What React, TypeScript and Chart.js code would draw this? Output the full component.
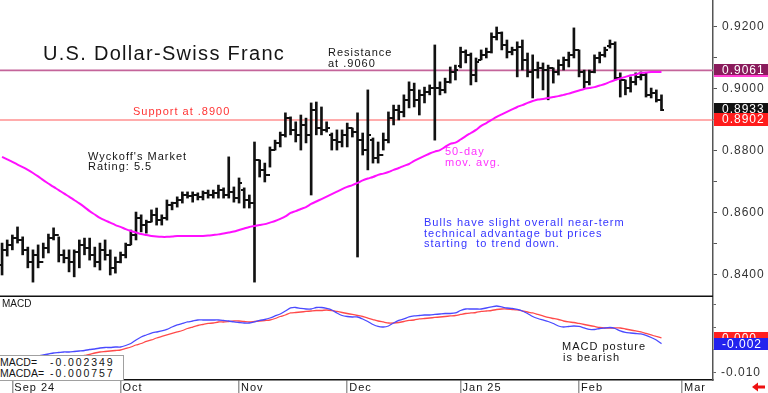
import React, { useEffect, useRef } from 'react';
import { Chart, registerables } from 'chart.js';

Chart.register(...registerables);

// ---- data ----
const X_MIN = -0.4;
const X_MAX = 138;
const MONTH_TICKS = [2, 23, 46, 67, 89, 112, 132];
const MONTH_LABELS = ['Sep 24', 'Oct', 'Nov', 'Dec', 'Jan 25', 'Feb', 'Mar'];

const HIGHS = [
  0.8503, 0.8513, 0.8529, 0.8555, 0.8523, 0.8490, 0.8481, 0.8497, 0.8503, 0.8532,
  0.8552, 0.8523, 0.8481, 0.8481, 0.8481, 0.8513, 0.8519, 0.8519, 0.8490, 0.8503,
  0.8513, 0.8481, 0.8458, 0.8474, 0.8503, 0.8545, 0.8603, 0.8594, 0.8577, 0.8610,
  0.8616, 0.8594, 0.8642, 0.8635, 0.8652, 0.8668, 0.8668, 0.8668, 0.8665, 0.8671,
  0.8674, 0.8674, 0.8690, 0.8681, 0.8781, 0.8684, 0.8713, 0.8681, 0.8658, 0.8829,
  0.8771, 0.8761, 0.8813, 0.8835, 0.8861, 0.8923, 0.8910, 0.8894, 0.8916, 0.8906,
  0.8955, 0.8958, 0.8942, 0.8894, 0.8858, 0.8868, 0.8868, 0.8890, 0.8874, 0.8923,
  0.8858, 0.8997, 0.8842, 0.8829, 0.8858, 0.8926, 0.8948, 0.8948, 0.8981, 0.9023,
  0.9019, 0.8997, 0.9006, 0.9013, 0.9142, 0.9023, 0.9035, 0.9071, 0.9077, 0.9135,
  0.9126, 0.9116, 0.9100, 0.9126, 0.9132, 0.9181, 0.9200, 0.9184, 0.9158, 0.9135,
  0.9152, 0.9158, 0.9116, 0.9110, 0.9087, 0.9084, 0.9077, 0.9068, 0.9094, 0.9103,
  0.9119, 0.9197, 0.9126, 0.9061, 0.9061, 0.9110, 0.9119, 0.9135, 0.9158, 0.9152,
  0.9052, 0.9029, 0.9039, 0.9052, 0.9055, 0.9052, 0.9003, 0.8997, 0.8981,
];
const LOWS = [
  0.8400, 0.8461, 0.8481, 0.8503, 0.8465, 0.8423, 0.8377, 0.8423, 0.8455, 0.8471,
  0.8513, 0.8442, 0.8439, 0.8410, 0.8394, 0.8423, 0.8465, 0.8448, 0.8426, 0.8416,
  0.8448, 0.8400, 0.8406, 0.8439, 0.8455, 0.8497, 0.8513, 0.8539, 0.8535, 0.8571,
  0.8561, 0.8561, 0.8577, 0.8610, 0.8619, 0.8632, 0.8648, 0.8635, 0.8642, 0.8642,
  0.8648, 0.8648, 0.8648, 0.8648, 0.8648, 0.8635, 0.8632, 0.8616, 0.8616, 0.8377,
  0.8716, 0.8700, 0.8748, 0.8803, 0.8813, 0.8845, 0.8852, 0.8829, 0.8803, 0.8826,
  0.8658, 0.8852, 0.8852, 0.8861, 0.8803, 0.8803, 0.8813, 0.8813, 0.8845, 0.8458,
  0.8787, 0.8739, 0.8761, 0.8761, 0.8803, 0.8826, 0.8884, 0.8900, 0.8910, 0.8939,
  0.8942, 0.8916, 0.8955, 0.8981, 0.8835, 0.8981, 0.8987, 0.9019, 0.9029, 0.9068,
  0.9084, 0.9013, 0.9023, 0.9094, 0.9100, 0.9116, 0.9158, 0.9126, 0.9100, 0.9110,
  0.9039, 0.9061, 0.9039, 0.8971, 0.9035, 0.8997, 0.8965, 0.9019, 0.9045, 0.9061,
  0.9071, 0.9100, 0.9039, 0.9003, 0.9013, 0.9052, 0.9084, 0.9103, 0.9132, 0.9029,
  0.8974, 0.8981, 0.8990, 0.9013, 0.9029, 0.8974, 0.8971, 0.8958, 0.8930,
];
const OPENS = [
  0.8432, 0.8481, 0.8497, 0.8519, 0.8513, 0.8481, 0.8442, 0.8465, 0.8442, 0.8487,
  0.8519, 0.8529, 0.8465, 0.8455, 0.8442, 0.8474, 0.8497, 0.8487, 0.8465, 0.8442,
  0.8481, 0.8465, 0.8423, 0.8442, 0.8465, 0.8497, 0.8529, 0.8584, 0.8561, 0.8571,
  0.8594, 0.8577, 0.8584, 0.8626, 0.8632, 0.8642, 0.8658, 0.8655, 0.8658, 0.8652,
  0.8665, 0.8658, 0.8665, 0.8674, 0.8658, 0.8668, 0.8648, 0.8674, 0.8642, 0.8632,
  0.8771, 0.8739, 0.8723, 0.8803, 0.8826, 0.8852, 0.8906, 0.8868, 0.8852, 0.8884,
  0.8852, 0.8932, 0.8874, 0.8868, 0.8852, 0.8835, 0.8829, 0.8852, 0.8874, 0.8861,
  0.8835, 0.8803, 0.8835, 0.8777, 0.8787, 0.8835, 0.8906, 0.8932, 0.8926, 0.8965,
  0.8997, 0.8965, 0.8981, 0.8990, 0.9003, 0.9003, 0.8997, 0.9023, 0.9055, 0.9074,
  0.9119, 0.9110, 0.9045, 0.9094, 0.9110, 0.9119, 0.9168, 0.9181, 0.9142, 0.9119,
  0.9126, 0.9135, 0.9094, 0.9055, 0.9061, 0.9068, 0.9061, 0.9068, 0.9055, 0.9077,
  0.9094, 0.9110, 0.9126, 0.9055, 0.9023, 0.9055, 0.9100, 0.9110, 0.9139, 0.9145,
  0.9035, 0.9029, 0.9003, 0.9023, 0.9039, 0.9045, 0.8981, 0.8987, 0.8965,
];
const CLOSES = [
  0.8481, 0.8497, 0.8519, 0.8513, 0.8481, 0.8442, 0.8465, 0.8442, 0.8487, 0.8519,
  0.8529, 0.8465, 0.8455, 0.8442, 0.8474, 0.8497, 0.8487, 0.8465, 0.8442, 0.8481,
  0.8465, 0.8423, 0.8442, 0.8465, 0.8497, 0.8529, 0.8584, 0.8561, 0.8571, 0.8594,
  0.8577, 0.8584, 0.8626, 0.8632, 0.8642, 0.8658, 0.8655, 0.8658, 0.8652, 0.8665,
  0.8658, 0.8665, 0.8674, 0.8658, 0.8668, 0.8648, 0.8697, 0.8642, 0.8632, 0.8771,
  0.8739, 0.8723, 0.8803, 0.8826, 0.8852, 0.8906, 0.8868, 0.8852, 0.8884, 0.8852,
  0.8932, 0.8874, 0.8868, 0.8874, 0.8835, 0.8829, 0.8852, 0.8874, 0.8861, 0.8835,
  0.8803, 0.8852, 0.8777, 0.8787, 0.8835, 0.8906, 0.8932, 0.8926, 0.8965, 0.8997,
  0.8965, 0.8981, 0.8990, 0.9003, 0.9003, 0.8997, 0.9023, 0.9055, 0.9061, 0.9119,
  0.9110, 0.9045, 0.9087, 0.9110, 0.9119, 0.9168, 0.9181, 0.9142, 0.9119, 0.9126,
  0.9135, 0.9094, 0.9055, 0.9061, 0.9068, 0.9061, 0.9068, 0.9055, 0.9077, 0.9094,
  0.9110, 0.9126, 0.9055, 0.9023, 0.9055, 0.9100, 0.9110, 0.9126, 0.9145, 0.9035,
  0.9029, 0.9003, 0.9023, 0.9039, 0.9045, 0.8981, 0.8987, 0.8965, 0.8933,
];
const MA50 = [
  0.8781, 0.8773, 0.8765, 0.8756, 0.8748, 0.8739, 0.8729, 0.8718, 0.8706, 0.8695,
  0.8684, 0.8674, 0.8663, 0.8653, 0.8642, 0.8631, 0.8619, 0.8606, 0.8595, 0.8584,
  0.8576, 0.8569, 0.8561, 0.8555, 0.8548, 0.8542, 0.8537, 0.8532, 0.8529, 0.8526,
  0.8524, 0.8523, 0.8523, 0.8524, 0.8526, 0.8526, 0.8526, 0.8526, 0.8526, 0.8526,
  0.8527, 0.8529, 0.8531, 0.8534, 0.8537, 0.8540, 0.8545, 0.8550, 0.8555, 0.8558,
  0.8561, 0.8564, 0.8569, 0.8574, 0.8581, 0.8589, 0.8600, 0.8606, 0.8613, 0.8619,
  0.8629, 0.8637, 0.8645, 0.8653, 0.8661, 0.8669, 0.8677, 0.8684, 0.8690, 0.8697,
  0.8705, 0.8711, 0.8716, 0.8723, 0.8727, 0.8732, 0.8739, 0.8745, 0.8752, 0.8758,
  0.8768, 0.8776, 0.8784, 0.8792, 0.8798, 0.8803, 0.8813, 0.8823, 0.8827, 0.8837,
  0.8848, 0.8858, 0.8868, 0.8881, 0.8890, 0.8900, 0.8910, 0.8918, 0.8926, 0.8934,
  0.8942, 0.8948, 0.8955, 0.8961, 0.8966, 0.8968, 0.8971, 0.8974, 0.8977, 0.8981,
  0.8985, 0.8990, 0.8995, 0.9000, 0.9003, 0.9006, 0.9011, 0.9016, 0.9023, 0.9029,
  0.9034, 0.9039, 0.9044, 0.9047, 0.9052, 0.9053, 0.9055, 0.9055, 0.9055,
];
const MACD = [
  -0.00800, -0.00773, -0.00747, -0.00720, -0.00693, -0.00640, -0.00600, -0.00560, -0.00533, -0.00507,
  -0.00480, -0.00467, -0.00453, -0.00453, -0.00440, -0.00427, -0.00413, -0.00387, -0.00373, -0.00347,
  -0.00333, -0.00333, -0.00320, -0.00320, -0.00280, -0.00227, -0.00133, -0.00053, 0.00000, 0.00053,
  0.00080, 0.00107, 0.00147, 0.00213, 0.00267, 0.00307, 0.00347, 0.00373, 0.00400, 0.00400,
  0.00400, 0.00400, 0.00400, 0.00387, 0.00373, 0.00347, 0.00333, 0.00320, 0.00320, 0.00347,
  0.00387, 0.00413, 0.00453, 0.00507, 0.00560, 0.00640, 0.00720, 0.00733, 0.00707, 0.00693,
  0.00693, 0.00733, 0.00733, 0.00707, 0.00667, 0.00587, 0.00520, 0.00493, 0.00480, 0.00480,
  0.00427, 0.00360, 0.00280, 0.00227, 0.00213, 0.00240, 0.00320, 0.00387, 0.00427, 0.00480,
  0.00507, 0.00520, 0.00533, 0.00533, 0.00547, 0.00560, 0.00573, 0.00573, 0.00587, 0.00653,
  0.00693, 0.00693, 0.00693, 0.00693, 0.00720, 0.00747, 0.00773, 0.00747, 0.00720, 0.00707,
  0.00680, 0.00640, 0.00573, 0.00493, 0.00440, 0.00400, 0.00360, 0.00307, 0.00240, 0.00213,
  0.00227, 0.00240, 0.00227, 0.00187, 0.00147, 0.00147, 0.00173, 0.00187, 0.00200, 0.00173,
  0.00107, 0.00067, 0.00053, 0.00040, 0.00027, -0.00013, -0.00067, -0.00133, -0.002349,
];
const MACDA = [
  -0.00827, -0.00813, -0.00800, -0.00773, -0.00760, -0.00747, -0.00720, -0.00707, -0.00680, -0.00667,
  -0.00640, -0.00627, -0.00613, -0.00600, -0.00587, -0.00573, -0.00547, -0.00520, -0.00480, -0.00453,
  -0.00440, -0.00427, -0.00413, -0.00400, -0.00360, -0.00320, -0.00267, -0.00227, -0.00173, -0.00133,
  -0.00080, -0.00040, 0.00000, 0.00040, 0.00080, 0.00120, 0.00173, 0.00213, 0.00253, 0.00280,
  0.00307, 0.00320, 0.00347, 0.00347, 0.00360, 0.00373, 0.00373, 0.00360, 0.00347, 0.00360,
  0.00373, 0.00387, 0.00400, 0.00440, 0.00493, 0.00533, 0.00587, 0.00600, 0.00613, 0.00627,
  0.00640, 0.00653, 0.00653, 0.00667, 0.00653, 0.00627, 0.00600, 0.00573, 0.00547, 0.00520,
  0.00493, 0.00453, 0.00413, 0.00373, 0.00347, 0.00320, 0.00320, 0.00333, 0.00360, 0.00387,
  0.00400, 0.00427, 0.00440, 0.00453, 0.00467, 0.00480, 0.00493, 0.00507, 0.00520, 0.00547,
  0.00573, 0.00587, 0.00600, 0.00627, 0.00640, 0.00653, 0.00680, 0.00693, 0.00693, 0.00680,
  0.00667, 0.00640, 0.00613, 0.00587, 0.00547, 0.00507, 0.00467, 0.00440, 0.00413, 0.00373,
  0.00347, 0.00333, 0.00307, 0.00280, 0.00253, 0.00227, 0.00200, 0.00187, 0.00187, 0.00187,
  0.00187, 0.00160, 0.00133, 0.00107, 0.00080, 0.00040, 0.00000, -0.00040, -0.000757,
];

const RESISTANCE = 0.906;
const SUPPORT = 0.89;
const PRICE_TICKS = [0.84, 0.85, 0.86, 0.87, 0.88, 0.89, 0.90, 0.91, 0.92];
const MACD_TICKS = [-0.01, -0.008, -0.006, -0.004, -0.002, 0, 0.002, 0.004, 0.006, 0.008, 0.01];
const PRICE_TAG_VALUES = [0.9061, 0.8933, 0.8902];
const PRICE_TAG_TEXTS = ['0.9061', '0.8933', '0.8902'];
const MACD_TAG_VALUES = [-0.000757, -0.002349];
const MACD_TAG_TEXTS = ['0.000', '-0.002'];

const Y_MIN = 0.8329;
const Y_MAX = 0.9287;
const MACD_MIN = -0.012;
const MACD_MAX = 0.01013;

// ---- styles ----
const FONT = '"Liberation Sans", Arial, sans-serif';
const PRICE_TAG_FILLS = ['#8a1b5c', '#111111', '#ff1c1c'];
const MACD_TAG_FILLS = ['#ff2020', '#2323ee'];

function makeTick(left: boolean) {
  const c = document.createElement('canvas');
  c.width = 6;
  c.height = 2;
  const g = c.getContext('2d')!;
  g.fillStyle = '#111';
  g.fillRect(left ? 0 : 3, 0, 3, 2);
  return c;
}

const spacingPlugin = {
  id: 'spacing',
  beforeDraw(chart: any) {
    chart.ctx.letterSpacing = '1px';
  },
};

function drawTags(chart: any, values: number[], texts: string[], fills: string[], h: number, stripe: boolean) {
  const ctx = chart.ctx;
  const ys = chart.scales.y;
  const left = chart.chartArea.right + 1;
  ctx.save();
  ctx.font = '12px ' + FONT;
  ctx.textBaseline = 'middle';
  ctx.letterSpacing = '1px';
  values.forEach((v, k) => {
    const y = ys.getPixelForValue(v);
    const top = Math.round(y - h / 2);
    ctx.fillStyle = fills[k];
    ctx.fillRect(left, top, chart.width - left, h);
    if (stripe && k === 0) {
      ctx.fillStyle = '#ff3fd0';
      ctx.fillRect(left, top + h - 2, chart.width - left, 2);
    }
    ctx.fillStyle = '#fff';
    ctx.fillText(texts[k], left + 8, top + h / 2 + 0.5);
  });
  ctx.restore();
}

const mainDeco = {
  id: 'mainDeco',
  afterDraw(chart: any) {
    const ctx = chart.ctx;
    ctx.save();
    ctx.strokeStyle = '#111';
    ctx.lineWidth = 1.5;
    ctx.beginPath();
    ctx.moveTo(0, chart.height - 0.75);
    ctx.lineTo(chart.chartArea.right, chart.height - 0.75);
    ctx.stroke();
    ctx.restore();
    drawTags(chart, PRICE_TAG_VALUES, PRICE_TAG_TEXTS, PRICE_TAG_FILLS, 13, true);
  },
};

const macdDeco = {
  id: 'macdDeco',
  afterDraw(chart: any) {
    drawTags(chart, MACD_TAG_VALUES, MACD_TAG_TEXTS, MACD_TAG_FILLS, 12, false);
    const ctx = chart.ctx;
    ctx.save();
    ctx.fillStyle = '#ee1111';
    const bx = 752;
    const by = chart.height - 6;
    ctx.beginPath();
    ctx.moveTo(bx, by);
    ctx.lineTo(bx + 6, by - 4.5);
    ctx.lineTo(bx + 6, by + 4.5);
    ctx.closePath();
    ctx.fill();
    ctx.fillRect(bx + 6, by - 1.5, 7, 3);
    ctx.restore();
  },
};

function Txt(props: any) {
  const { x, y, size = 11, color = '#151515', ls = 1, lh = 10.5, children } = props;
  return (
    <div
      style={{
        position: 'absolute',
        left: x,
        top: y,
        fontSize: size,
        color,
        letterSpacing: ls,
        lineHeight: lh + 'px',
        whiteSpace: 'pre',
        fontFamily: FONT,
      }}
    >
      {children}
    </div>
  );
}

export default function App() {
  const mainRef = useRef<HTMLCanvasElement>(null);
  const macdRef = useRef<HTMLCanvasElement>(null);

  useEffect(() => {
    document.body.style.margin = '0';
    const openImg = makeTick(true);
    const closeImg = makeTick(false);
    const idx = HIGHS.map((_, i) => i);

    const main = new Chart(mainRef.current!, {
      type: 'bar',
      data: {
        datasets: [
          {
            type: 'line',
            label: '50-day mov. avg.',
            data: idx.map((i) => ({ x: i, y: MA50[i] })),
            borderColor: '#ff10ff',
            borderWidth: 2,
            pointRadius: 0,
            tension: 0.3,
          },
          {
            type: 'line',
            label: 'close',
            data: idx.map((i) => ({ x: i, y: CLOSES[i] })),
            showLine: false,
            pointStyle: closeImg,
            pointRadius: 3,
          },
          {
            type: 'line',
            label: 'open',
            data: idx.map((i) => ({ x: i, y: OPENS[i] })),
            showLine: false,
            pointStyle: openImg,
            pointRadius: 3,
          },
          {
            type: 'bar',
            label: 'range',
            data: idx.map((i) => ({ x: i, y: [LOWS[i], HIGHS[i]] })),
            backgroundColor: '#111',
            barThickness: 2,
            borderWidth: 0,
          },
          {
            type: 'line',
            label: 'support',
            data: [{ x: X_MIN, y: SUPPORT }, { x: X_MAX, y: SUPPORT }],
            borderColor: '#ff5a5a',
            borderWidth: 1.2,
            pointRadius: 0,
          },
          {
            type: 'line',
            label: 'resistance',
            data: [{ x: X_MIN, y: RESISTANCE }, { x: X_MAX, y: RESISTANCE }],
            borderColor: '#c4649a',
            borderWidth: 1.6,
            pointRadius: 0,
          },
        ] as any,
      },
      options: {
        animation: false,
        responsive: false,
        maintainAspectRatio: false,
        layout: { padding: 0, autoPadding: false },
        plugins: { legend: { display: false }, tooltip: { enabled: false } },
        scales: {
          x: { type: 'linear', min: X_MIN, max: X_MAX, offset: false, display: false },
          y: {
            position: 'right',
            min: Y_MIN,
            max: Y_MAX,
            afterBuildTicks: (s: any) => {
              s.ticks = PRICE_TICKS.map((v) => ({ value: v }));
            },
            afterFit: (s: any) => {
              s.width = 55;
              s.paddingTop = 0;
              s.paddingBottom = 0;
            },
            ticks: {
              callback: (v: any) => (Math.round(Number(v) * 100) % 2 === 0 ? Number(v).toFixed(4) : ''),
              padding: 5,
              color: '#333',
              font: { family: FONT, size: 12 },
            },
            grid: { drawOnChartArea: false, drawTicks: true, tickLength: 4, color: '#555' },
            border: { display: true, color: '#555', width: 1.5 },
          },
        },
      } as any,
      plugins: [spacingPlugin, mainDeco],
    });

    const macd = new Chart(macdRef.current!, {
      type: 'line',
      data: {
        datasets: [
          {
            label: 'MACD',
            data: idx.map((i) => ({ x: i, y: MACD[i] })),
            borderColor: '#4a4aff',
            borderWidth: 1.3,
            pointRadius: 0,
            tension: 0.2,
          },
          {
            label: 'MACDA',
            data: idx.map((i) => ({ x: i, y: MACDA[i] })),
            borderColor: '#ff4a4a',
            borderWidth: 1.3,
            pointRadius: 0,
            tension: 0.2,
          },
        ],
      },
      options: {
        animation: false,
        responsive: false,
        maintainAspectRatio: false,
        layout: { padding: 0, autoPadding: false },
        plugins: { legend: { display: false }, tooltip: { enabled: false } },
        scales: {
          x: {
            type: 'linear',
            min: X_MIN,
            max: X_MAX,
            offset: false,
            position: 'bottom',
            afterBuildTicks: (s: any) => {
              s.ticks = MONTH_TICKS.map((v) => ({ value: v }));
            },
            afterFit: (s: any) => {
              s.height = 13;
              s.paddingLeft = 0;
              s.paddingRight = 0;
            },
            ticks: {
              callback: (_v: any, i: number) => MONTH_LABELS[i],
              align: 'start',
              labelOffset: 2,
              padding: -12,
              autoSkip: false,
              maxRotation: 0,
              minRotation: 0,
              color: '#151515',
              font: { family: FONT, size: 11 },
            },
            grid: { drawOnChartArea: false, drawTicks: true, tickLength: 13, color: '#999', lineWidth: 1.5 },
            border: { display: true, color: '#111', width: 1.5 },
          },
          y: {
            position: 'right',
            min: MACD_MIN,
            max: MACD_MAX,
            afterBuildTicks: (s: any) => {
              s.ticks = MACD_TICKS.map((v) => ({ value: v }));
            },
            afterFit: (s: any) => {
              s.width = 55;
              s.paddingTop = 0;
              s.paddingBottom = 0;
            },
            ticks: {
              callback: (v: any) => (Math.abs(Number(v) + 0.01) < 1e-9 ? '-0.010' : ''),
              padding: 5,
              color: '#333',
              font: { family: FONT, size: 12 },
            },
            grid: { drawOnChartArea: false, drawTicks: true, tickLength: 3, color: '#666' },
            border: { display: true, color: '#555', width: 1.5 },
          },
        },
      } as any,
      plugins: [spacingPlugin, macdDeco],
    });

    return () => {
      main.destroy();
      macd.destroy();
    };
  }, []);

  return (
    <div style={{ position: 'relative', width: 768, height: 393, overflow: 'hidden', background: '#fff' }}>
      <canvas ref={mainRef} width={768} height={297} style={{ position: 'absolute', left: 0, top: 0, display: 'block' }} />
      <canvas ref={macdRef} width={768} height={96} style={{ position: 'absolute', left: 0, top: 297, display: 'block' }} />

      <Txt x={43} y={42.5} size={20} ls={1.3} lh={20}>U.S. Dollar-Swiss Franc</Txt>
      <Txt x={328} y={47}>{'Resistance\nat .9060'}</Txt>
      <Txt x={133} y={106} color="#ff3333">Support at .8900</Txt>
      <Txt x={88} y={150.5}>{"Wyckoff's Market\nRating: 5.5"}</Txt>
      <Txt x={445} y={146} color="#ff33ff">{'50-day\nmov. avg.'}</Txt>
      <Txt x={424} y={217} color="#3535ff">
        {'Bulls have slight overall near-term\ntechnical advantage but prices\nstarting  to trend down.'}
      </Txt>

      <Txt x={2} y={298.7} size={10} ls={0} lh={10}>MACD</Txt>
      <div
        style={{
          position: 'absolute',
          left: -1,
          top: 355,
          width: 123,
          height: 24,
          border: '1px solid #a0a0a0',
          background: '#fff',
        }}
      />
      <Txt x={0} y={356.5} size={10.5} ls={0} lh={11}>{'MACD=\nMACDA='}</Txt>
      <Txt x={50} y={356.5} size={10.5} ls={1.9} lh={11}>{'-0.002349\n-0.000757'}</Txt>
      <Txt x={562} y={341}>{'MACD posture'}</Txt>
      <Txt x={563} y={351.5}>{'is bearish'}</Txt>
    </div>
  );
}
